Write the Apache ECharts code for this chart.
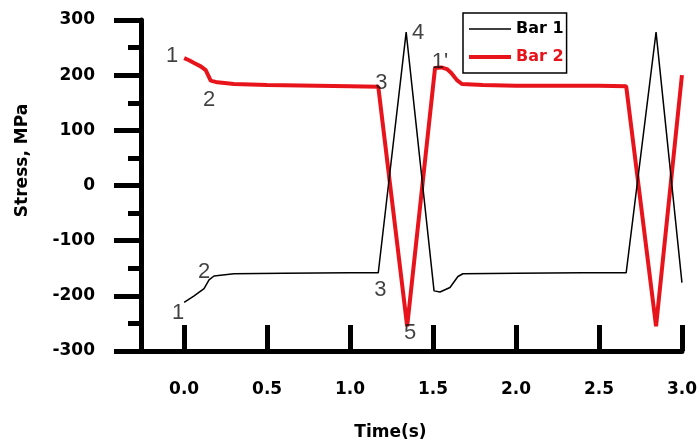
<!DOCTYPE html>
<html>
<head>
<meta charset="utf-8">
<script src="https://cdn.jsdelivr.net/npm/echarts@6/dist/echarts.min.js"></script>
<style>html,body{margin:0;padding:0;background:#fff}#c{width:700px;height:446px}</style>
</head>
<body>
<div id="c"></div>
<script>
// ---- data ----
const seriesNames = ['Bar 1', 'Bar 2'];
const bar1T = [0, 0.06, 0.12, 0.15, 0.18, 0.3, 0.6, 1.0, 1.17, 1.338, 1.506, 1.542, 1.602, 1.65, 1.68, 2.0, 2.4, 2.664, 2.844, 3.0];
const bar1V = [-212, -200, -187, -171, -164, -160, -159, -158, -158, 278, -191, -193, -185, -165, -160, -159, -158, -158, 278, -176];
const bar2T = [0, 0.03, 0.06, 0.10, 0.13, 0.16, 0.2, 0.3, 0.5, 0.8, 1.0, 1.17, 1.344, 1.512, 1.55, 1.584, 1.61, 1.644, 1.674, 1.8, 2.0, 2.3, 2.5, 2.664, 2.844, 3.0];
const bar2V = [231, 227, 222, 216, 209, 190, 187, 184, 182, 181, 180, 179, -255, 213, 214, 211, 204, 191, 184, 182, 181, 181, 181, 180, -255, 200];
const xTicks = [0, 0.5, 1.0, 1.5, 2.0, 2.5, 3.0];
const yTicks = [-300, -200, -100, 0, 100, 200, 300];
const annoText = ['1', '2', '3', '4', "1'", '1', '2', '3', '5'];
const annoT = [-0.072, 0.15, 1.188, 1.41, 1.542, -0.036, 0.12, 1.182, 1.362];
const annoV = [235, 155, 186, 276, 224, -231, -157, -189, -267];

const RED = '#e8141b';
const FONT = 'DejaVu Sans';

const zip = (a, b) => a.map((t, i) => [t, b[i]]);

const chart = echarts.init(document.getElementById('c'), null, {renderer: 'canvas'});
chart.setOption({
  animation: false,
  backgroundColor: '#fff',
  grid: {left: 141, right: 17, top: 20, bottom: 95, containLabel: false},
  legend: {
    orient: 'vertical',
    left: 463, top: 13,
    padding: [8, 3, 8, 4],
    itemWidth: 42, itemHeight: 14, itemGap: 12,
    borderColor: '#000', borderWidth: 1.5,
    backgroundColor: '#fff',
    itemStyle: {opacity: 0},
    textStyle: {fontFamily: FONT, fontWeight: 'bold', fontSize: 16},
    data: [
      {name: seriesNames[0], textStyle: {color: '#000'}, lineStyle: {width: 1.5, color: '#000'}},
      {name: seriesNames[1], textStyle: {color: RED}, lineStyle: {width: 4, color: RED}}
    ]
  },
  xAxis: {
    type: 'value',
    min: -0.26, max: 3.0,
    name: 'Time(s)',
    nameLocation: 'middle',
    nameGap: 73,
    nameTextStyle: {fontFamily: FONT, fontWeight: 'bold', fontSize: 17, color: '#000', padding: [0, 42, 0, 0]},
    axisLine: {onZero: false, lineStyle: {color: '#000', width: 5}},
    axisTick: {show: true, inside: true, length: 26, customValues: xTicks, lineStyle: {color: '#000', width: 5}},
    axisLabel: {customValues: xTicks, margin: 30, formatter: v => v.toFixed(1), fontFamily: FONT, fontWeight: 'bold', fontSize: 17, color: '#000'},
    splitLine: {show: false}
  },
  yAxis: {
    type: 'value',
    min: yTicks[0], max: yTicks[yTicks.length - 1], interval: 100,
    name: 'Stress, MPa',
    nameLocation: 'middle',
    nameGap: 110,
    nameTextStyle: {fontFamily: FONT, fontWeight: 'bold', fontSize: 17, color: '#000', padding: [0, 0, 0, 50]},
    axisLine: {show: true, onZero: false, lineStyle: {color: '#000', width: 5}},
    axisTick: {show: true, inside: false, length: 27, lineStyle: {color: '#000', width: 5}},
    minorTick: {show: true, splitNumber: 2, length: 13, lineStyle: {color: '#000', width: 5}},
    axisLabel: {margin: 46, fontFamily: FONT, fontWeight: 'bold', fontSize: 17, color: '#000'},
    splitLine: {show: false},
    minorSplitLine: {show: false}
  },
  series: [
    {
      name: seriesNames[0], type: 'line', data: zip(bar1T, bar1V),
      symbol: 'none', z: 3,
      lineStyle: {color: '#000', width: 1.5}, itemStyle: {color: '#000'}
    },
    {
      name: seriesNames[1], type: 'line', data: zip(bar2T, bar2V),
      symbol: 'none', z: 2,
      lineStyle: {color: RED, width: 4}, itemStyle: {color: RED}
    },
    {
      name: 'labels', type: 'scatter', z: 5,
      symbolSize: 1,
      itemStyle: {color: 'transparent'},
      label: {show: true, position: 'inside', formatter: '{b}', fontFamily: 'Liberation Sans', fontSize: 22, color: '#111'},
      emphasis: {disabled: true},
      data: annoText.map((s, i) => ({name: s, value: [annoT[i], annoV[i]]}))
    }
  ]
});
</script>
</body>
</html>
